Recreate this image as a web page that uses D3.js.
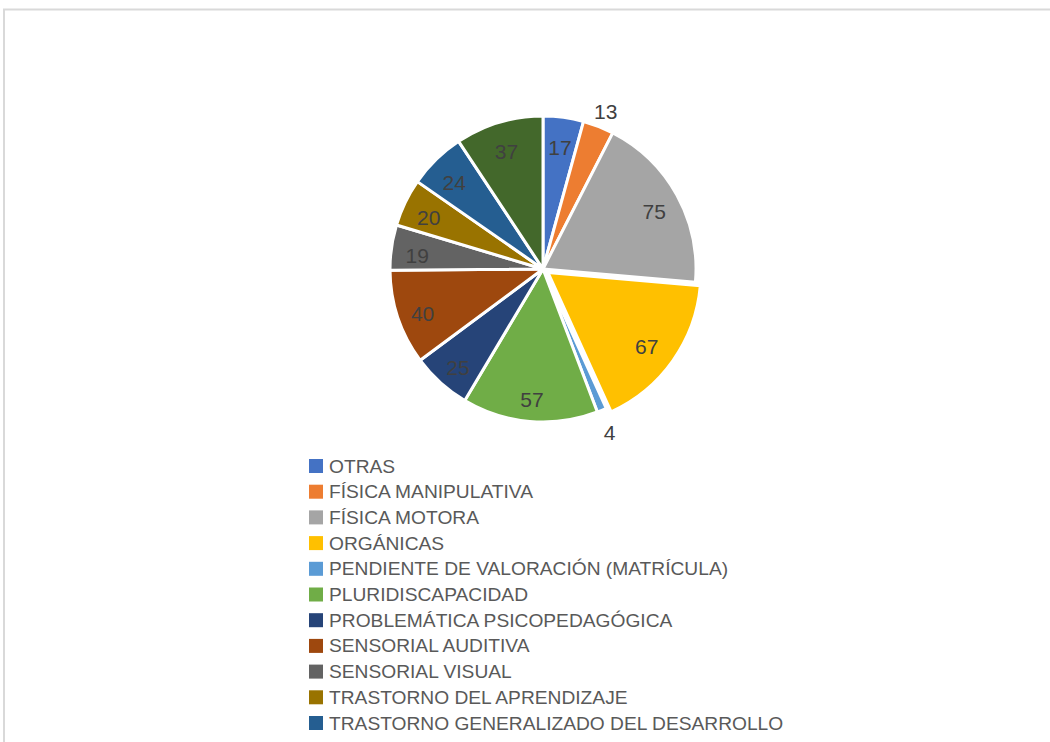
<!DOCTYPE html>
<html>
<head>
<meta charset="utf-8">
<script src="https://cdn.jsdelivr.net/npm/d3@7"></script>
<style>
  html, body { margin: 0; padding: 0; background: #fff; overflow: hidden; }
  svg { display: block; }
</style>
</head>
<body>
<svg id="chart" width="1050" height="742"></svg>
<script>
const categories = [
  "OTRAS",
  "FÍSICA MANIPULATIVA",
  "FÍSICA MOTORA",
  "ORGÁNICAS",
  "PENDIENTE DE VALORACIÓN (MATRÍCULA)",
  "PLURIDISCAPACIDAD",
  "PROBLEMÁTICA PSICOPEDAGÓGICA",
  "SENSORIAL AUDITIVA",
  "SENSORIAL VISUAL",
  "TRASTORNO DEL APRENDIZAJE",
  "TRASTORNO GENERALIZADO DEL DESARROLLO",
  "TRASTORNO GRAVE DE CONDUCTA"
];
const values = [17, 13, 75, 67, 4, 57, 25, 40, 19, 20, 24, 37];
const colors = ["#4472C4", "#ED7D31", "#A5A5A5", "#FFC000", "#5B9BD5", "#70AD47",
                "#264478", "#9E480E", "#636363", "#997300", "#255E91", "#43682B"];
const outsideLabels = ["FÍSICA MANIPULATIVA", "PENDIENTE DE VALORACIÓN (MATRÍCULA)"];
const explodedSlices = ["ORGÁNICAS"];
// legend rows visible inside the picture (the last entry falls below the frame)
const legendVisibleCount = 11;

const data = categories.map((c, i) => ({ name: c, value: values[i], color: colors[i] }));

const svg = d3.select("#chart");

// chart area border
svg.append("rect")
  .attr("x", 4).attr("y", 9.5)
  .attr("width", 1100).attr("height", 800)
  .attr("fill", "#fff")
  .attr("stroke", "#D9D9D9").attr("stroke-width", 2);

const cx = 543, cy = 269, R = 153;

const pie = d3.pie().sort(null).value(d => d.value);
const arcs = pie(data);
const arc = d3.arc().innerRadius(0).outerRadius(R);

const g = svg.append("g").attr("transform", `translate(${cx},${cy})`);

g.selectAll("path.slice")
  .data(arcs)
  .join("path")
  .attr("class", "slice")
  .attr("d", arc)
  .attr("fill", d => d.data.color)
  .attr("stroke", "#fff")
  .attr("stroke-width", 3)
  .attr("stroke-linejoin", "round")
  .attr("transform", d => {
    if (!explodedSlices.includes(d.data.name)) return null;
    const a = (d.startAngle + d.endAngle) / 2;
    return `translate(${6 * Math.sin(a)},${-6 * Math.cos(a)})`;
  });

const inArc = d3.arc().innerRadius(R * 0.83).outerRadius(R * 0.83);
const outArc = d3.arc().innerRadius(R * 1.13).outerRadius(R * 1.13);

g.selectAll("text.lbl")
  .data(arcs)
  .join("text")
  .attr("class", "lbl")
  .attr("transform", d => {
    const p = outsideLabels.includes(d.data.name) ? outArc.centroid(d) : inArc.centroid(d);
    return `translate(${p[0]},${p[1] + 4})`;
  })
  .attr("text-anchor", "middle")
  .attr("dominant-baseline", "central")
  .attr("font-family", "'Liberation Sans', Arial, sans-serif")
  .attr("font-size", 21)
  .attr("fill", "#404040")
  .text(d => d.data.value);

// legend
const legendX = 309, legendY = 466, rowH = 25.7;
const lg = svg.append("g");
const rows = lg.selectAll("g.row")
  .data(data.slice(0, legendVisibleCount))
  .join("g")
  .attr("class", "row")
  .attr("transform", (d, i) => `translate(${legendX},${legendY + i * rowH})`);
rows.append("rect")
  .attr("x", 0).attr("y", -7)
  .attr("width", 14).attr("height", 14)
  .attr("fill", d => d.color);
rows.append("text")
  .attr("x", 20).attr("y", 0)
  .attr("dominant-baseline", "central")
  .attr("font-family", "'Liberation Sans', Arial, sans-serif")
  .attr("font-size", 19.2)
  .attr("fill", "#595959")
  .text(d => d.name);
</script>
</body>
</html>
